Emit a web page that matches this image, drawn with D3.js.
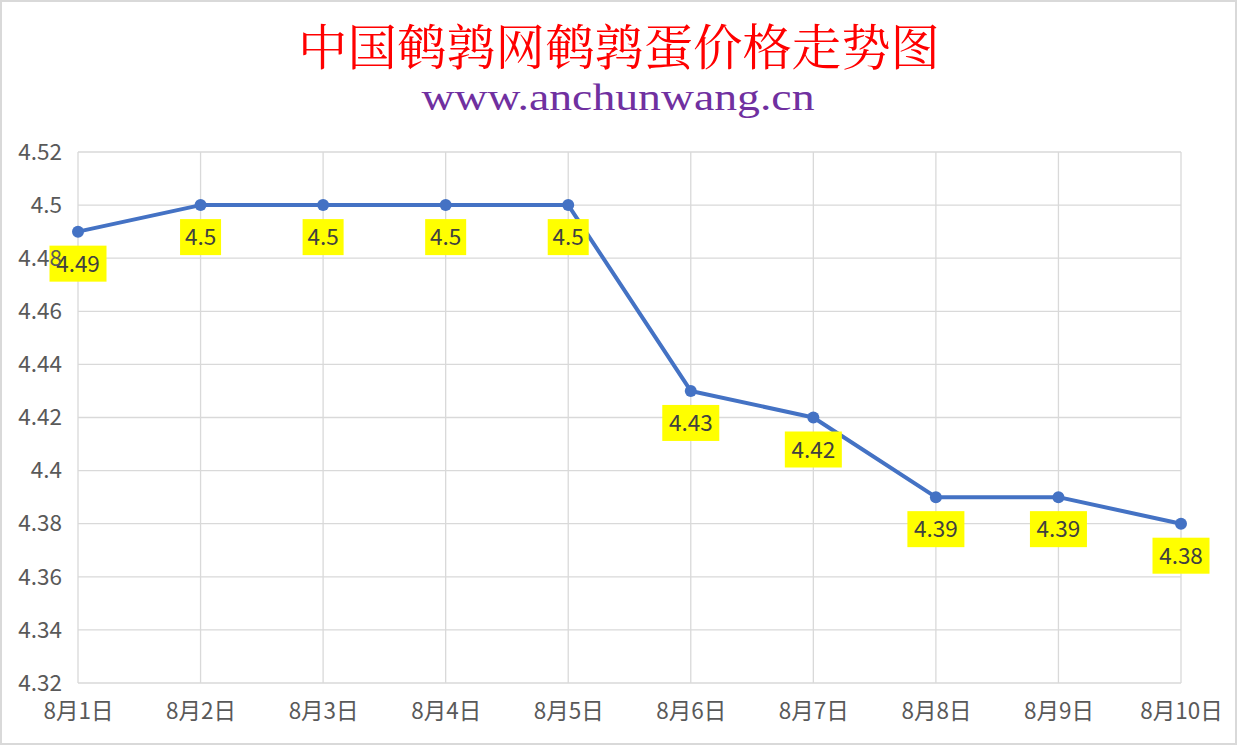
<!DOCTYPE html>
<html><head><meta charset="utf-8">
<script src="https://cdn.jsdelivr.net/npm/d3@7"></script>
<style>html,body{margin:0;padding:0;background:#fff;}svg{display:block;}</style>
</head><body>
<script>
const categories = ["8月1日","8月2日","8月3日","8月4日","8月5日","8月6日","8月7日","8月8日","8月9日","8月10日"];
const prices = [4.49, 4.5, 4.5, 4.5, 4.5, 4.43, 4.42, 4.39, 4.39, 4.38];
const priceLabels = ["4.49","4.5","4.5","4.5","4.5","4.43","4.42","4.39","4.39","4.38"];
const yTicks = [4.32,4.34,4.36,4.38,4.4,4.42,4.44,4.46,4.48,4.5,4.52];
const title = "中国鹌鹑网鹌鹑蛋价格走势图";
const subtitle = "www.anchunwang.cn";

const W = 1237, H = 745;
const svg = d3.select("body").append("svg").attr("width", W).attr("height", H);
svg.append("rect").attr("x",1).attr("y",1).attr("width",W-2).attr("height",H-2)
  .attr("fill","#fff").attr("stroke","#d9d9d9").attr("stroke-width",2);

const x = d3.scalePoint().domain(categories).range([78, 1181]);
const y = d3.scaleLinear().domain([4.32, 4.52]).range([683, 152]);
const font = "'Microsoft YaHei','Noto Sans CJK SC','Noto Sans',sans-serif";

// grid
const g = svg.append("g");
g.selectAll("line.h").data(yTicks).join("line")
  .attr("x1",78).attr("x2",1181).attr("y1",d=>y(d)).attr("y2",d=>y(d))
  .attr("stroke","#d9d9d9").attr("stroke-width",1.3);
g.selectAll("line.v").data(categories).join("line")
  .attr("x1",d=>x(d)).attr("x2",d=>x(d)).attr("y1",152).attr("y2",683)
  .attr("stroke","#d9d9d9").attr("stroke-width",1.3);

const xAxis = svg.append("g").attr("transform","translate(0,683)")
  .call(d3.axisBottom(x).tickSize(0).tickPadding(20));
xAxis.select(".domain").remove();
xAxis.selectAll("text").attr("font-family",font).attr("font-size",22.5).attr("fill","#595959");

// line
const line = d3.line().x((d,i)=>x(categories[i])).y(d=>y(d));
svg.append("path").datum(prices).attr("d",line).attr("fill","none")
  .attr("stroke","#4472c4").attr("stroke-width",4).attr("stroke-linejoin","round");
svg.selectAll("circle.pt").data(prices).join("circle")
  .attr("cx",(d,i)=>x(categories[i])).attr("cy",d=>y(d)).attr("r",6).attr("fill","#4472c4");

// labels
const lab = svg.selectAll("g.lab").data(prices).join("g")
  .attr("transform",(d,i)=>`translate(${x(categories[i])},${y(d)})`);
lab.append("rect")
  .attr("x",(d,i)=>priceLabels[i].length>3?-28.5:-20.5)
  .attr("y",14).attr("width",(d,i)=>priceLabels[i].length>3?57:41).attr("height",36)
  .attr("fill","#ffff00");
lab.append("text").attr("x",0).attr("y",40).attr("text-anchor","middle")
  .attr("font-family",font).attr("font-size",22.5).attr("fill","#404040")
  .text((d,i)=>priceLabels[i]);

// y axis (drawn over labels)
const yAxis = svg.append("g").attr("transform","translate(78,0)")
  .call(d3.axisLeft(y).tickValues(yTicks).tickSize(0).tickPadding(16).tickFormat(d=>String(+d.toFixed(2))));
yAxis.select(".domain").remove();
yAxis.selectAll("text").attr("font-family",font).attr("font-size",22.5).attr("fill","#595959");

// titles
svg.append("text").attr("x",619).attr("y",65).attr("text-anchor","middle")
  .attr("font-family","'Noto Serif CJK SC','SimSun','Noto Sans CJK SC',serif").attr("font-size",49)
  .attr("textLength",642).attr("lengthAdjust","spacingAndGlyphs")
  .attr("fill","#ff0000").text(title);
svg.append("text").attr("x",618).attr("y",110).attr("text-anchor","middle")
  .attr("font-family","'Times New Roman','Liberation Serif',serif").attr("font-size",38)
  .attr("textLength",393).attr("lengthAdjust","spacingAndGlyphs")
  .attr("fill","#7030a0").text(subtitle);
</script>
</body></html>
